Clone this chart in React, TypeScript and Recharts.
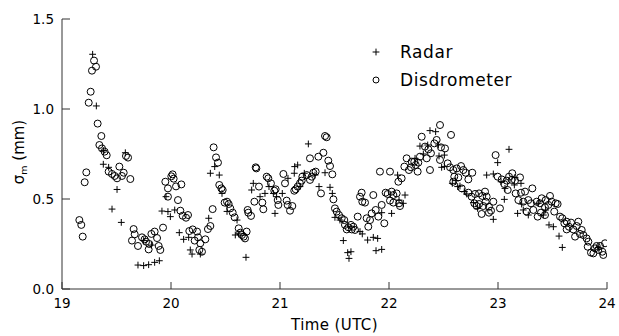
import React from 'react';
import { ScatterChart, Scatter, XAxis, YAxis, Legend } from 'recharts';

// Time (UTC hours), sigma_m (mm)
const radarPoints: [number, number][] = [
  [19.281, 1.304], [19.315, 1.017], [19.382, 0.769], [19.581, 0.757], [19.379, 0.693],
  [19.428, 0.676], [19.505, 0.553], [19.459, 0.444], [19.544, 0.37], [19.749, 0.269],
  [19.82, 0.244], [19.697, 0.133], [19.749, 0.13], [19.795, 0.135], [19.85, 0.148],
  [19.893, 0.157], [19.954, 0.513], [19.917, 0.433], [19.972, 0.43], [19.994, 0.402],
  [20.034, 0.439], [20.076, 0.313], [20.116, 0.276], [20.162, 0.287], [20.177, 0.217],
  [20.193, 0.194], [20.269, 0.194], [20.346, 0.393], [20.401, 0.68], [20.361, 0.643],
  [20.443, 0.633], [20.468, 0.531], [20.514, 0.431], [20.606, 0.383], [20.59, 0.3],
  [20.621, 0.306], [20.688, 0.176], [20.755, 0.587], [20.74, 0.55], [20.817, 0.513],
  [20.862, 0.531], [20.899, 0.569], [20.939, 0.531], [20.969, 0.513], [20.954, 0.42],
  [21.021, 0.531], [21.073, 0.615], [21.135, 0.68], [21.162, 0.689], [21.131, 0.643],
  [21.183, 0.569], [21.223, 0.643], [21.321, 0.633], [21.26, 0.806], [21.413, 0.646],
  [21.358, 0.569], [21.459, 0.565], [21.48, 0.531], [21.504, 0.398], [21.55, 0.383],
  [21.581, 0.269], [21.621, 0.202], [21.651, 0.207], [21.633, 0.17], [21.734, 0.319],
  [21.755, 0.306], [21.804, 0.272], [21.856, 0.287], [21.896, 0.281], [21.881, 0.213],
  [21.933, 0.22], [21.933, 0.424], [22.024, 0.42], [22.131, 0.476], [22.147, 0.522],
  [22.092, 0.494], [22.079, 0.633], [22.239, 0.726], [22.315, 0.75], [22.284, 0.794],
  [22.355, 0.8], [22.376, 0.88], [22.428, 0.874], [22.453, 0.8], [22.459, 0.739],
  [22.508, 0.744], [22.483, 0.676], [22.508, 0.68], [22.612, 0.602], [22.581, 0.587],
  [22.63, 0.569], [22.651, 0.572], [22.691, 0.541], [22.713, 0.528], [22.774, 0.48],
  [22.813, 0.448], [22.957, 0.387], [22.997, 0.702], [23.101, 0.776], [22.896, 0.633],
  [22.957, 0.639], [23.028, 0.596], [23.156, 0.62], [23.211, 0.587], [23.15, 0.578],
  [23.064, 0.559], [23.058, 0.498], [23.217, 0.472], [23.232, 0.439], [23.18, 0.42],
  [23.278, 0.411], [23.37, 0.476], [23.437, 0.439], [23.416, 0.411], [23.468, 0.356],
  [23.508, 0.346], [23.56, 0.294], [23.59, 0.231], [23.92, 0.231],
];

const disdrometerPoints: [number, number][] = [
  [19.294, 1.269], [19.312, 1.235], [19.275, 1.213], [19.263, 1.096], [19.245, 1.035],
  [19.327, 0.919], [19.361, 0.85], [19.343, 0.8], [19.367, 0.781], [19.391, 0.763],
  [19.41, 0.743], [19.587, 0.739], [19.606, 0.73], [19.428, 0.652], [19.459, 0.639],
  [19.483, 0.628], [19.505, 0.615], [19.526, 0.68], [19.566, 0.646], [19.55, 0.628],
  [19.627, 0.611], [19.223, 0.648], [19.208, 0.593], [19.159, 0.383], [19.177, 0.356],
  [19.19, 0.291], [19.657, 0.333], [19.667, 0.304], [19.642, 0.269], [19.697, 0.239],
  [19.734, 0.287], [19.758, 0.276], [19.771, 0.263], [19.801, 0.25], [19.82, 0.306],
  [19.85, 0.319], [19.872, 0.283], [19.887, 0.239], [19.902, 0.217], [19.795, 0.22],
  [19.927, 0.341], [19.948, 0.596], [19.972, 0.559], [20.003, 0.626], [20.015, 0.637],
  [20.024, 0.613], [20.046, 0.57], [20.095, 0.581], [20.064, 0.494], [19.972, 0.513],
  [20.086, 0.435], [20.107, 0.407], [20.138, 0.396], [20.156, 0.411], [20.168, 0.322],
  [20.199, 0.331], [20.239, 0.319], [20.248, 0.287], [20.217, 0.269], [20.269, 0.254],
  [20.284, 0.207], [20.26, 0.217], [20.315, 0.276], [20.339, 0.333], [20.361, 0.35],
  [20.382, 0.444], [20.391, 0.787], [20.413, 0.731], [20.431, 0.702], [20.443, 0.578],
  [20.462, 0.559], [20.474, 0.55], [20.492, 0.48], [20.514, 0.485], [20.529, 0.472],
  [20.544, 0.448], [20.566, 0.424], [20.584, 0.398], [20.621, 0.337], [20.636, 0.313],
  [20.651, 0.3], [20.667, 0.291], [20.694, 0.319], [20.679, 0.281], [20.709, 0.424],
  [20.734, 0.406], [20.703, 0.439], [20.777, 0.676], [20.783, 0.67], [20.765, 0.485],
  [20.807, 0.569], [20.847, 0.443], [20.838, 0.48], [20.878, 0.624], [20.893, 0.615],
  [20.917, 0.587], [20.948, 0.546], [20.96, 0.554], [20.979, 0.494], [20.985, 0.467],
  [21.031, 0.639], [21.046, 0.587], [21.061, 0.491], [21.07, 0.467], [21.092, 0.435],
  [21.113, 0.461], [21.131, 0.546], [21.144, 0.554], [21.162, 0.569], [21.183, 0.587],
  [21.199, 0.602], [21.205, 0.624], [21.245, 0.633], [21.275, 0.606], [21.291, 0.624],
  [21.306, 0.646], [21.327, 0.652], [21.275, 0.726], [21.352, 0.735], [21.398, 0.757],
  [21.413, 0.85], [21.428, 0.843], [21.443, 0.713], [21.459, 0.683], [21.48, 0.637],
  [21.376, 0.531], [21.49, 0.498], [21.504, 0.448], [21.52, 0.43], [21.541, 0.411],
  [21.566, 0.393], [21.59, 0.383], [21.596, 0.356], [21.612, 0.331], [21.627, 0.343],
  [21.651, 0.356], [21.658, 0.331], [21.673, 0.346], [21.688, 0.328], [21.713, 0.402],
  [21.749, 0.535], [21.734, 0.513], [21.755, 0.485], [21.78, 0.48], [21.856, 0.522],
  [21.795, 0.393], [21.826, 0.383], [21.81, 0.346], [21.841, 0.42], [21.878, 0.439],
  [21.902, 0.402], [21.933, 0.467], [21.957, 0.365], [21.969, 0.535], [21.988, 0.528],
  [22.024, 0.541], [22.04, 0.522], [22.07, 0.531], [22.009, 0.491], [22.04, 0.48],
  [22.092, 0.476], [22.101, 0.461], [21.917, 0.652], [22.009, 0.652], [22.086, 0.596],
  [22.116, 0.615], [22.141, 0.68], [22.162, 0.726], [22.183, 0.661], [22.208, 0.707],
  [22.202, 0.676], [22.232, 0.707], [22.263, 0.652], [22.245, 0.689], [22.269, 0.702],
  [22.284, 0.735], [22.3, 0.846], [22.33, 0.791], [22.346, 0.726], [22.376, 0.661],
  [22.468, 0.911], [22.569, 0.856], [22.437, 0.828], [22.416, 0.809], [22.361, 0.776],
  [22.385, 0.754], [22.477, 0.787], [22.514, 0.781], [22.468, 0.717], [22.538, 0.698],
  [22.56, 0.676], [22.59, 0.661], [22.621, 0.67], [22.661, 0.683], [22.682, 0.661],
  [22.703, 0.646], [22.728, 0.609], [22.764, 0.646], [22.599, 0.624], [22.636, 0.62],
  [22.59, 0.596], [22.667, 0.559], [22.728, 0.535], [22.789, 0.528], [22.826, 0.531],
  [22.856, 0.517], [22.881, 0.541], [22.896, 0.513], [22.758, 0.513], [22.783, 0.476],
  [22.804, 0.461], [22.826, 0.472], [22.865, 0.461], [22.887, 0.485], [22.917, 0.457],
  [22.85, 0.417], [22.917, 0.424], [22.936, 0.435], [22.957, 0.485], [23.018, 0.448],
  [22.978, 0.744], [22.997, 0.624], [23.034, 0.609], [23.058, 0.583], [23.08, 0.602],
  [23.101, 0.624], [23.131, 0.643], [23.125, 0.606], [23.156, 0.602], [23.202, 0.62],
  [23.089, 0.55], [23.162, 0.531], [23.211, 0.535], [23.248, 0.541], [23.315, 0.559],
  [23.187, 0.494], [23.232, 0.485], [23.278, 0.494], [23.303, 0.476], [23.263, 0.43],
  [23.324, 0.439], [23.355, 0.485], [23.385, 0.476], [23.401, 0.504], [23.437, 0.494],
  [23.477, 0.517], [23.431, 0.454], [23.462, 0.467], [23.492, 0.485], [23.529, 0.476],
  [23.547, 0.472], [23.394, 0.424], [23.431, 0.411], [23.364, 0.402], [23.516, 0.43],
  [23.569, 0.402], [23.59, 0.393], [23.609, 0.365], [23.63, 0.374], [23.651, 0.346],
  [23.67, 0.369], [23.691, 0.331], [23.722, 0.35], [23.737, 0.374], [23.707, 0.291],
  [23.752, 0.306], [23.768, 0.328], [23.783, 0.3], [23.813, 0.281], [23.829, 0.263],
  [23.823, 0.235], [23.853, 0.202], [23.875, 0.198], [23.89, 0.226], [23.905, 0.239],
  [23.92, 0.217], [23.936, 0.239], [23.957, 0.207], [23.966, 0.189], [23.982, 0.254],
  [23.63, 0.331],
];

const xTicks = [19, 20, 21, 22, 23, 24];
const yTicks = [0, 0.5, 1.0, 1.5];
const seriesNames = ['Radar', 'Disdrometer'];
const xTitle = 'Time (UTC)';

const radarData = radarPoints.map(([t, v]) => ({ t, v }));
const disdrometerData = disdrometerPoints.map(([t, v]) => ({ t, v }));

const FONT = '"DejaVu Sans", sans-serif';
const AXIS = '#333';

const PlusShape = (p: any) => {
  const { cx, cy } = p;
  if (cx == null || cy == null) return <g />;
  return (
    <path d={`M${cx - 3.4},${cy}H${cx + 3.4}M${cx},${cy - 3.4}V${cy + 3.4}`} stroke="#000" strokeWidth={1} fill="none" />
  );
};

const CircleShape = (p: any) => {
  const { cx, cy } = p;
  if (cx == null || cy == null) return <g />;
  return <circle cx={cx} cy={cy} r={3.5} stroke="#000" strokeWidth={1} fill="none" />;
};

const BottomTick = (p: any) => (
  <g>
    <line x1={p.x} x2={p.x} y1={p.y} y2={p.y - 7} stroke={AXIS} />
    <text x={p.x} y={p.y + 19} textAnchor="middle" fontSize={13.5} fontFamily={FONT} fill="#000">
      {p.payload.value}
    </text>
  </g>
);
const TopTick = (p: any) => <line x1={p.x} x2={p.x} y1={p.y} y2={p.y + 7} stroke={AXIS} />;
const LeftTick = (p: any) => (
  <g>
    <line x1={p.x} x2={p.x + 8} y1={p.y} y2={p.y} stroke={AXIS} />
    <text x={p.x - 8} y={p.y} dy="0.36em" textAnchor="end" fontSize={13.5} fontFamily={FONT} fill="#000">
      {Number(p.payload.value).toFixed(1)}
    </text>
  </g>
);
const RightTick = (p: any) => <line x1={p.x} x2={p.x - 8} y1={p.y} y2={p.y} stroke={AXIS} />;

const YLabel = () => (
  <text transform="rotate(-90, 24, 152)" x={24} y={152} textAnchor="middle" fontSize={15} fontFamily={FONT} fill="#000">
    <tspan>σ</tspan>
    <tspan fontSize={9.5} dy={3}>m</tspan>
    <tspan dy={-3}> (mm)</tspan>
  </text>
);

const XLabel = () => (
  <text x={334.5} y={330} textAnchor="middle" fontSize={15} letterSpacing={0.4} fontFamily={FONT} fill="#000">
    {xTitle}
  </text>
);

const LegendContent = () => (
  <svg width={200} height={60} style={{ display: 'block' }}>
    <path d="M12.6,16H19.4M16,12.6V19.4" stroke="#000" strokeWidth={1} />
    <text x={40} y={22} fontSize={17} letterSpacing={0.6} fontFamily={FONT} fill="#000">{seriesNames[0]}</text>
    <circle cx={16} cy={44} r={3} stroke="#000" fill="none" />
    <text x={40} y={50} fontSize={17} letterSpacing={0.6} fontFamily={FONT} fill="#000">{seriesNames[1]}</text>
  </svg>
);

export default function App() {
  return (
    <div style={{ position: 'absolute', left: 0, top: 0, background: '#fff' }}>
      <ScatterChart width={619} height={336} margin={{ top: 19, right: 12, bottom: 0, left: 0 }}>
        <XAxis
          xAxisId={0}
          dataKey="t"
          type="number"
          domain={[19, 24]}
          ticks={xTicks}
          allowDataOverflow
          height={47}
          tickSize={0}
          tickMargin={0}
          tickLine={false}
          axisLine={{ stroke: AXIS }}
          tick={BottomTick}
          label={XLabel}
        />
        <XAxis
          xAxisId="top"
          orientation="top"
          type="number"
          domain={[19, 24]}
          ticks={xTicks}
          allowDataOverflow
          height={0}
          tickSize={0}
          tickMargin={0}
          tickLine={false}
          axisLine={{ stroke: AXIS }}
          tick={TopTick}
        />
        <YAxis
          yAxisId={0}
          dataKey="v"
          type="number"
          domain={[0, 1.5]}
          ticks={yTicks}
          allowDataOverflow
          width={62}
          tickSize={0}
          tickMargin={0}
          tickLine={false}
          axisLine={{ stroke: AXIS }}
          tick={LeftTick}
          label={YLabel}
        />
        <YAxis
          yAxisId="right"
          orientation="right"
          type="number"
          domain={[0, 1.5]}
          ticks={yTicks}
          allowDataOverflow
          width={0}
          tickSize={0}
          tickMargin={0}
          tickLine={false}
          axisLine={{ stroke: AXIS }}
          tick={RightTick}
        />
        <Legend
          layout="horizontal"
          verticalAlign="middle"
          content={LegendContent}
          wrapperStyle={{ left: 360, top: 36, width: 200, height: 60 }}
        />
        <Scatter name={seriesNames[1]} data={disdrometerData} xAxisId={0} yAxisId={0} shape={CircleShape} isAnimationActive={false} />
        <Scatter name={seriesNames[0]} data={radarData} xAxisId={0} yAxisId={0} shape={PlusShape} isAnimationActive={false} />
      </ScatterChart>
    </div>
  );
}
